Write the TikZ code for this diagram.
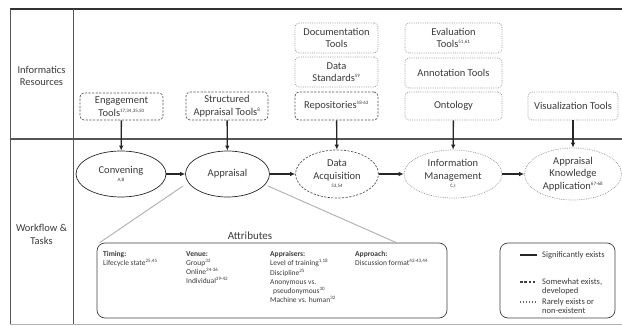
\documentclass[tikz,border=0pt]{standalone}
\usepackage{fontspec}
\setmainfont{Carlito}
\usetikzlibrary{arrows.meta,shapes.geometric}
\definecolor{txt}{HTML}{3A3A3A}
\definecolor{framec}{HTML}{555555}
\definecolor{dashc}{HTML}{555555}
\definecolor{dotc}{HTML}{9A9A9A}
\definecolor{greyline}{HTML}{B4B4B4}
\newcommand{\refs}[1]{\textsuperscript{\fontsize{5}{5}\selectfont #1}}
\begin{document}
\begin{tikzpicture}[x=1pt,y=-1pt,
  every node/.style={text=txt},
  mainf/.style={font=\fontsize{10.5}{12.5}\selectfont},
  res/.style={mainf,rectangle,rounded corners=4pt,align=center,inner sep=0pt,line width=0.7pt},
  sig/.style={draw=black!85},
  som/.style={draw=dashc,dash pattern=on 2.2pt off 1.4pt},
  rare/.style={draw=dotc,dash pattern=on 0.8pt off 1pt},
  task/.style={mainf,ellipse,inner sep=0pt,align=center,line width=0.7pt},
  flow/.style={-{Latex[length=5pt,width=4.5pt]},line width=1.3pt,draw=black!85},
  hflow/.style={flow,line width=1.6pt},
  attrf/.style={font=\fontsize{7.5}{9.3}\selectfont,align=left,anchor=north west,inner sep=0pt},
  legf/.style={font=\fontsize{8.5}{9.3}\selectfont,align=left,inner sep=0pt},
  frame/.style={draw=framec,line width=0.8pt}
]
\useasboundingbox (0,0) rectangle (622,326);

% frame
\draw[draw=black!80,line width=1.4pt] (10,9) -- (622,9);
\draw[frame,line width=1.3pt] (10,139) -- (622,139);
\draw[frame] (10,9) -- (10,324);
\draw[frame] (73,9) -- (73,324);
\draw[draw=black!30,line width=0.7pt] (10,324) -- (622,324);

% row labels
\node[mainf,align=center] (lres) at (41.5,76) {Informatics\\Resources};
\node[mainf,align=center] (lwf) at (41.5,234.5) {Workflow \&\\Tasks};

% resources
\node[res,som,minimum width=83pt,minimum height=27pt] (eng) at (121.5,106.5) {Engagement\\Tools\refs{17,34,35,50}};
\node[res,som,minimum width=82pt,minimum height=28pt] (sat) at (227,106) {Structured\\Appraisal Tools\refs{8}};
\node[res,rare,minimum width=83pt,minimum height=30pt] (doc) at (336.5,38) {Documentation\\Tools};
\node[res,rare,minimum width=83pt,minimum height=30pt] (dstd) at (336.5,72) {Data\\Standards\refs{59}};
\node[res,som,minimum width=83pt,minimum height=28pt] (repo) at (336.5,106) {Repositories\refs{58-63}};
\node[res,rare,minimum width=97pt,minimum height=30pt] (eval) at (453.5,38) {Evaluation\\Tools\refs{51,61}};
\node[res,rare,minimum width=97pt,minimum height=30pt] (annot) at (453.5,73) {Annotation Tools};
\node[res,rare,minimum width=97pt,minimum height=28pt] (onto) at (453.5,106) {Ontology};
\node[res,rare,minimum width=90pt,minimum height=28pt] (vis) at (573,106) {Visualization Tools};

% tasks
\node[task,sig,minimum width=90pt,minimum height=46pt] (conv) at (121,174) {Convening\\[-4pt]{\fontsize{5}{5}\selectfont A,B}};
\node[task,sig,minimum width=84pt,minimum height=46pt] (appr) at (227.5,174) {Appraisal};
\node[task,som,minimum width=83pt,minimum height=48pt] (dacq) at (337,174) {Data\\Acquisition\\[-4pt]{\fontsize{5}{5}\selectfont 53,54}};
\node[task,rare,minimum width=98pt,minimum height=48pt] (infm) at (453,174) {Information\\Management\\[-4pt]{\fontsize{5}{5}\selectfont C,I}};
\node[task,rare,minimum width=97pt,minimum height=52pt] (akap) at (573,174) {Appraisal\\Knowledge\\Application\refs{67-68}};

% vertical arrows
\draw[flow] (eng) -- (conv);
\draw[flow] (sat) -- (appr);
\draw[flow] (repo) -- (dacq);
\draw[flow] (onto) -- (infm);
\draw[flow] (vis) -- (akap);

% horizontal arrows
\draw[hflow] (conv) -- (appr);
\draw[hflow] (appr) -- (dacq);
\draw[hflow] (dacq) -- (infm);
\draw[hflow] (infm) -- (akap);

% attributes
\node[draw=black!75,line width=0.7pt,rounded corners=8pt,minimum width=350pt,minimum height=75pt,inner sep=0pt] (attr) at (272,280.5) {};
\node[font=\fontsize{11}{12}\selectfont,inner sep=0pt] (attrlab) at (250,235.5) {Attributes};
\coordinate (gl) at (183,186);
\coordinate (gr) at (268,186);
\draw[greyline,line width=1pt] (gl) -- ([xshift=3pt]attr.north west);
\draw[greyline,line width=1pt] (gr) -- ([xshift=-51pt]attr.north east);

\node[attrf] (timing) at (103,251) {\textbf{Timing:}\\Lifecycle state\refs{25,45}};
\node[attrf] (venue) at (186,251) {\textbf{Venue:}\\Group\refs{33}\\Online\refs{34-36}\\Individual\refs{39-42}};
\node[attrf] (apprs) at (270,251) {\textbf{Appraisers:}\\Level of training\refs{1,18}\\Discipline\refs{25}\\Anonymous vs.\\\hspace*{3pt}pseudonymous\refs{30}\\Machine vs. human\refs{32}};
\node[attrf] (approach) at (355,251) {\textbf{Approach:}\\Discussion format\refs{42-43,44}};

% legend
\node[draw=black!75,line width=0.7pt,rounded corners=8pt,minimum width=115pt,minimum height=75pt,inner sep=0pt] (leg) at (557.5,280.5) {};
\coordinate (s1) at (520,255); \coordinate (s2) at (537,255);
\coordinate (d1) at (520,282); \coordinate (d2) at (537,282);
\coordinate (r1) at (520,302); \coordinate (r2) at (537,302);
\draw[black!85,line width=1.2pt] (s1) -- (s2);
\draw[black!75,line width=1.2pt,dash pattern=on 2.5pt off 1.8pt] (d1) -- (d2);
\draw[black!60,line width=1.2pt,dash pattern=on 0.9pt off 2pt] (r1) -- (r2);
\node[legf,anchor=west] (lsig) at (542,255) {Significantly exists};
\node[legf,anchor=north west] (lsom) at (542,278) {Somewhat exists,\\developed};
\node[legf,anchor=north west] (lrare) at (542,298) {Rarely exists or\\non-existent};
\end{tikzpicture}
\end{document}
